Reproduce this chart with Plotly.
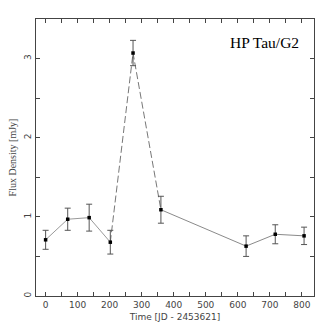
import plotly.graph_objects as go

# observations of HP Tau/G2
time = [0, 69, 136, 202, 273, 360, 626, 717, 807]
flux = [0.71, 0.97, 0.99, 0.68, 3.07, 1.09, 0.63, 0.78, 0.76]
err = [0.12, 0.14, 0.17, 0.15, 0.16, 0.17, 0.13, 0.12, 0.11]

x_ticks = list(range(0, 850, 50))
x_labels = [str(v) if v % 100 == 0 else "" for v in x_ticks]
y_ticks = [0, 0.5, 1, 1.5, 2, 2.5, 3]
y_labels = ["0", "", "1", "", "2", "", "3"]

fig = go.Figure()

# solid segments
fig.add_trace(go.Scatter(x=time[:4], y=flux[:4], mode='lines',
                         line=dict(color='#9a9a9a', width=1), showlegend=False))
fig.add_trace(go.Scatter(x=time[5:], y=flux[5:], mode='lines',
                         line=dict(color='#8a8a8a', width=1), showlegend=False))
# dashed segments around the flare
fig.add_trace(go.Scatter(x=time[3:6], y=flux[3:6], mode='lines',
                         line=dict(color='#777777', width=1, dash='7px,3px'), showlegend=False))

fig.add_trace(go.Scatter(
    x=time, y=flux, mode='markers',
    marker=dict(color='black', size=3.5, symbol='square'),
    error_y=dict(type='data', array=err, color='#555555', thickness=1, width=3),
    showlegend=False
))

fig.add_annotation(x=0.955, y=0.915, xref='paper', yref='paper',
                   text='HP Tau/G2', showarrow=False, xanchor='right', yanchor='middle',
                   font=dict(family='Liberation Serif', size=15.5, color='black'))

axis_common = dict(showgrid=False, zeroline=False, showline=True, linecolor='#444444',
                   linewidth=1, mirror='allticks', ticks='inside', ticklen=4,
                   tickcolor='#444444', automargin=False,
                   tickfont=dict(family='DejaVu Sans', size=9, color='#444444'))

fig.update_layout(
    width=332, height=332,
    margin=dict(l=36, r=18, t=19, b=36, autoexpand=False),
    paper_bgcolor='white', plot_bgcolor='white',
    xaxis=dict(range=[-30, 838], tickvals=x_ticks, ticktext=x_labels,
               title=dict(text='Time [JD - 2453621]', standoff=4,
                          font=dict(family='DejaVu Sans', size=9, color='#444444')),
               **axis_common),
    yaxis=dict(range=[0, 3.5], tickvals=y_ticks, ticktext=y_labels, tickangle=-90,
               title=dict(text='Flux Density [mJy]', standoff=4,
                          font=dict(family='Liberation Serif', size=10, color='#444444')),
               **axis_common),
)

# drop the browser's default page margin so the figure sits at the window corner
fig.write_html("out.html", config={'displayModeBar': False},
               post_script="document.body.style.margin='0';")
